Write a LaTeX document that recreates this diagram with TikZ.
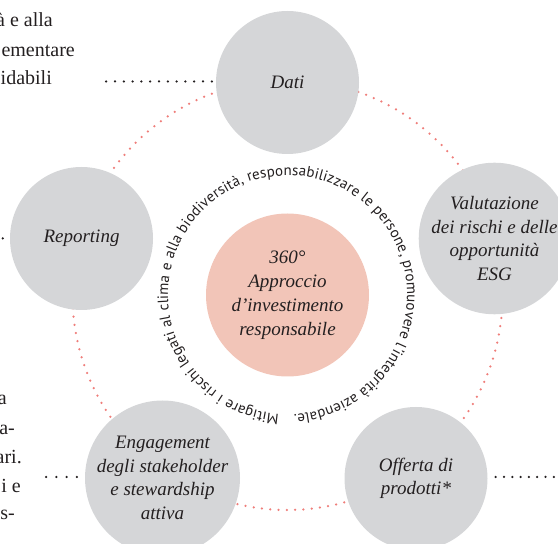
\documentclass[tikz,border=0pt]{standalone}
\usepackage{fontspec}
\setmainfont{Liberation Serif}
\newfontfamily\curvefont{PT Sans}
\usetikzlibrary{decorations.text}
\definecolor{circgray}{HTML}{D5D6D8}
\definecolor{centerpink}{HTML}{F2C5B8}
\definecolor{dotpink}{HTML}{EF7E7A}
\definecolor{inktext}{HTML}{231F20}
\tikzset{
  graycirc/.style={circle, fill=circgray, minimum size=143pt, inner sep=0pt, align=center, text=inktext, font=\fontsize{19}{23.5}\selectfont\itshape},
  centercirc/.style={circle, fill=centerpink, minimum size=163pt, inner sep=0pt, align=center, text=inktext, font=\fontsize{19}{24}\selectfont\itshape},
  pinkdots/.style={draw=dotpink, line width=2.5pt, line cap=round, dash pattern=on 0pt off 8.3pt},
  blackdots/.style={draw=inktext, line width=2.5pt, line cap=round, dash pattern=on 0pt off #1},
  blackdots/.default=9pt,
  fragment/.style={anchor=base east, inner sep=0pt, text=inktext, font=\fontsize{20}{24}\selectfont},
}
\begin{document}
\begin{tikzpicture}[x=1pt,y=1pt]
\useasboundingbox (0,0) rectangle (558,544);
\clip (0,0) rectangle (558,544);
\coordinate (C) at (287.5,249);
\coordinate (T) at (287.5,249);
\draw[pinkdots] (C) circle[radius=215pt];
\node[centercirc] (core) at (C) {360°\\Approccio\\d’investimento\\responsabile};
\node[graycirc] (dati) at (287.5,461.5) {Dati};
\node[graycirc] (val) at (494.5,305.5) {Valutazione\\dei rischi e delle\\opportunità\\ESG};
\node[graycirc] (rep) at (81.5,305.5) {Reporting};
\node[graycirc] (off) at (416,65.5) {Offerta di\\prodotti*};
\node[graycirc] (eng) at (162.5,66) {Engagement\\degli stakeholder\\e stewardship\\attiva};
\coordinate (ldati) at (102,462.5);
\coordinate (lrep) at (-40,306.5);
\coordinate (leng) at (42,67);
\coordinate (roff) at (600,67);
\draw[blackdots=8.8pt, shorten <=4pt] (dati.west |- ldati) -- (ldati);
\draw[blackdots=9pt, shorten <=7pt] (rep.west) -- (lrep);
\draw[blackdots=10.2pt, shorten <=8pt] (eng.west |- leng) -- (leng);
\draw[blackdots=8.3pt, shorten <=8pt] (off.east |- roff) -- (roff);
\path[decorate, decoration={text along path, text align=fit to path, text color=inktext,
  text={|\curvefont\fontsize{15}{18}\selectfont|Mitigare i rischi legati al clima e alla biodiversità, responsabilizzare le persone, promuovere l’integrità aziendale.}}]
  ([shift={(-94:119.5pt)}]T) arc[start angle=-94, end angle=-447, radius=119.5pt];
\node[fragment] (f1) at (53,517) {à e alla};
\node[fragment] (f2) at (75,487) {ementare};
\node[fragment] (f3) at (52,459) {idabili};
\node[fragment] (f4) at (7,139) {a};
\node[fragment] (f5) at (15,109) {a-};
\node[fragment] (f6) at (22,80) {ari.};
\node[fragment] (f7) at (21,51) {i e};
\node[fragment] (f8) at (15,24) {s-};
\end{tikzpicture}
\end{document}
